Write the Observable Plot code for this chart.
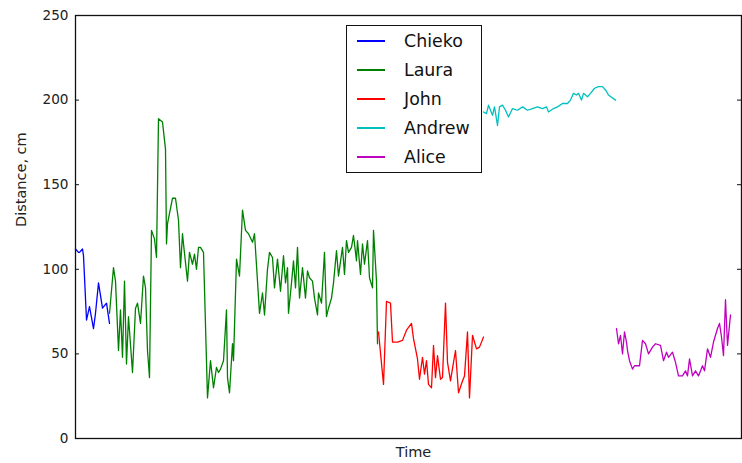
<!DOCTYPE html>
<html>
<head>
<meta charset="utf-8">
<script src="https://cdn.jsdelivr.net/npm/d3@7"></script>
<script src="https://cdn.jsdelivr.net/npm/@observablehq/plot@0.6"></script>
<style>
  body { margin: 0; background: #fff; font-family: "DejaVu Sans", sans-serif; }
  #wrap { position: relative; width: 742px; height: 463px; }
  #legend { position: absolute; left: 346px; top: 25px; width: 134px; height: 146px;
            border: 1.3px solid #111; background: #fff; box-sizing: content-box; }
  .item { position: absolute; left: 0; height: 20px; display: flex; align-items: center; }
  .sw { width: 28px; height: 2px; margin-left: 10px; margin-right: 19px; }
  .lb { font-size: 17.4px; color: #111; }
</style>
</head>
<body>
<div id="wrap"></div>
<script>
// Series: time (arbitrary units) and distance (cm)
const chiekoT = [0,3,4,7,8,11,14,18,20,23,27,31,34];
const chiekoV = [112,110,110,112,108,70,78,65,74,92,77,80,68];

const lauraT = [34,38,40,43,45,47,49,51,53,57,60,62,65,68,70,72,74,76,79,81,83,87,90,91,92,97,100,103,105,107,108,112,114,117,119,121,123,125,128,132,135,138,141,143,145,148,151,152,154,157,158,161,164,167,170,173,177,179,182,184,187,189,192,194,197,199,202,205,208,210,212,213,216,218,220,222,224,227,230,232,234,237,239,242,243,246,249,251,253,256,258,261,263,267,269,271,273,276,278,281,282,285,287,289,292,294,297,298,301,302];
const lauraV = [74,101,93,52,76,48,93,44,72,39,77,80,68,96,89,52,36,123,118,107,189,187,171,115,127,142,142,129,101,121,115,93,110,103,109,100,113,113,110,24,46,30,42,39,41,46,76,36,27,56,46,106,96,135,123,121,116,121,93,74,86,73,100,110,107,89,106,87,108,92,101,74,92,105,89,113,83,101,83,99,95,93,83,73,86,80,110,72,77,83,92,111,96,113,97,117,110,113,120,105,117,97,115,103,117,95,89,123,93,56];

const johnT = [303,308,311,315,317,322,327,331,336,338,342,344,347,349,351,353,356,358,360,362,365,367,370,372,375,378,380,383,387,389,392,394,397,401,404,408];
const johnV = [63,32,81,80,57,57,58,64,68,59,47,35,48,38,46,32,30,55,36,49,35,36,80,45,34,45,52,27,34,37,63,24,61,53,54,60];

const andrewT = [408,411,413,417,419,422,424,427,430,433,437,442,447,452,457,462,467,471,473,478,482,487,492,495,498,501,503,506,508,512,515,519,523,527,530,533,540];
const andrewV = [193,192,197,191,196,185,196,197,194,190,195,194,196,194,195,196,195,196,193,195,196,198,198,200,204,203,204,200,204,202,204,207,208,208,206,203,200];

const aliceT = [541,543,545,547,549,551,552,554,557,559,562,564,567,570,573,577,580,585,588,591,593,597,600,603,607,610,612,614,617,620,623,627,629,632,635,638,642,644,646,648,650,652,655];
const aliceV = [65,56,61,50,63,57,52,46,41,43,43,43,58,56,50,54,56,55,46,51,48,51,45,37,37,40,37,47,37,40,37,43,40,53,48,57,65,68,60,49,82,55,73];

const names = ["Chieko","Laura","John","Andrew","Alice"];
const colors = ["#0000ff","#008000","#ff0000","#00bfbf","#bf00bf"];
const yTicks = [0,50,100,150,200,250];
const xDomain = [0, 666];

const seriesT = [chiekoT, lauraT, johnT, andrewT, aliceT];
const seriesV = [chiekoV, lauraV, johnV, andrewV, aliceV];
const rows = [];
names.forEach((n, k) => seriesT[k].forEach((t, i) => rows.push({name: n, t, v: seriesV[k][i]})));

const span = xDomain[1] - xDomain[0];
const tk = span * 4 / 666;

const chart = Plot.plot({
  width: 742, height: 463,
  marginLeft: 75, marginRight: 1, marginTop: 15, marginBottom: 25,
  style: {fontFamily: "DejaVu Sans, sans-serif", background: "#fff"},
  x: {domain: xDomain, axis: null},
  y: {domain: [0, 250], axis: null},
  color: {domain: names, range: colors},
  marks: [
    Plot.line(rows, {x: "t", y: "v", z: "name", stroke: "name", strokeWidth: 1.3}),
    Plot.ruleY(yTicks, {x1: xDomain[0], x2: xDomain[0] + tk, stroke: "#111"}),
    Plot.ruleY(yTicks, {x1: xDomain[1] - tk, x2: xDomain[1], stroke: "#111"}),
    Plot.axisY({ticks: yTicks, tickSize: 0, tickPadding: 7, fontSize: 13.6, fill: "#222", label: null}),
    Plot.frame({stroke: "#111", strokeWidth: 1.3}),
    Plot.text(["Time"], {frameAnchor: "bottom", dy: 18, dx: 5, fontSize: 14.5, fill: "#222"}),
    Plot.text(["Distance, cm"], {frameAnchor: "left", rotate: -90, dx: -54, fontSize: 14.5, fill: "#222"})
  ]
});

const wrap = document.getElementById("wrap");
wrap.appendChild(chart);

const leg = document.createElement("div");
leg.id = "legend";
names.forEach((n, k) => {
  const it = document.createElement("div");
  it.className = "item";
  it.style.top = (15 + 29 * k - 10) + "px";
  const sw = document.createElement("div");
  sw.className = "sw";
  sw.style.background = colors[k];
  const lb = document.createElement("span");
  lb.className = "lb";
  lb.textContent = n;
  it.appendChild(sw); it.appendChild(lb);
  leg.appendChild(it);
});
wrap.appendChild(leg);
</script>
</body>
</html>
